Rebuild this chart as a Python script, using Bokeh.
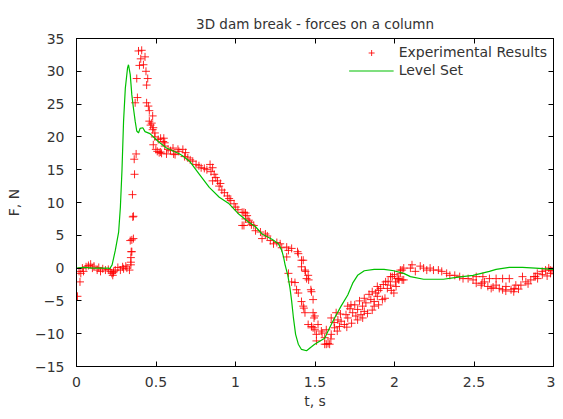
from bokeh.plotting import figure
from bokeh.models import LinearAxis, Range1d, FixedTicker, Legend, LegendItem
from bokeh.embed import file_html
from bokeh.resources import INLINE

title_text = "3D dam break - forces on a column"
x_label = "t, s"
y_label = "F, N"
series_names = ["Experimental Results", "Level Set"]
x_ticks = [0, 0.5, 1, 1.5, 2, 2.5, 3]
y_ticks = [-15, -10, -5, 0, 5, 10, 15, 20, 25, 30, 35]

# Experimental results (t, F)
exp_pts = [
    (0.006, -4.3), (0.016, -0.5), (0.022, -2.1), (0.027, -0.8), (0.037, 0.0), (0.044, -0.5),
    (0.06, 0.2), (0.075, 0.4), (0.089, 0.6), (0.1, 0.0), (0.11, 0.3), (0.13, -0.3), (0.14, 0.1),
    (0.151, -0.5), (0.165, -0.1), (0.182, -0.3), (0.2, -0.2), (0.213, -0.5), (0.222, -0.8),
    (0.228, -1.1), (0.232, -0.7), (0.234, -0.5), (0.244, -0.3), (0.26, 0.1), (0.276, -0.3),
    (0.29, 0.2), (0.296, -0.1), (0.31, 0.3), (0.317, 0.0), (0.333, -0.3), (0.342, 0.5),
    (0.342, 0.9), (0.342, 1.6), (0.344, 2.5), (0.348, 2.5), (0.338, 4.2), (0.348, 4.3),
    (0.358, 4.5), (0.354, 7.8), (0.358, 7.9), (0.352, 11.2), (0.365, 14.3), (0.363, 16.6),
    (0.375, 17.4), (0.369, 25.2), (0.383, 26.0), (0.379, 28.9), (0.396, 30.9), (0.39, 33.1),
    (0.41, 33.2), (0.404, 31.9), (0.431, 32.2), (0.421, 31.0), (0.437, 30.0), (0.448, 28.9),
    (0.441, 27.9), (0.441, 25.2), (0.452, 24.7), (0.458, 24.0), (0.479, 23.2), (0.458, 22.4),
    (0.466, 21.8), (0.473, 22.1), (0.479, 21.1), (0.483, 21.4), (0.493, 20.6), (0.493, 20.0),
    (0.514, 19.6), (0.529, 19.8), (0.545, 19.3), (0.549, 19.8), (0.555, 19.1), (0.555, 18.6),
    (0.483, 18.8), (0.499, 18.1), (0.508, 17.8), (0.52, 17.6), (0.529, 17.7), (0.535, 17.5),
    (0.566, 17.4), (0.576, 18.1), (0.591, 17.9), (0.607, 18.3), (0.611, 17.4), (0.62, 17.3),
    (0.638, 18.1), (0.644, 17.8), (0.669, 18.1), (0.68, 17.0), (0.686, 17.6), (0.7, 16.8),
    (0.715, 16.5), (0.731, 16.3), (0.752, 15.8), (0.77, 15.6), (0.784, 15.3), (0.804, 15.2),
    (0.82, 15.0), (0.84, 15.8), (0.846, 14.7), (0.856, 15.3), (0.856, 13.3), (0.866, 14.3),
    (0.876, 13.8), (0.887, 13.3), (0.897, 12.5), (0.905, 12.9), (0.914, 11.9), (0.93, 11.5),
    (0.949, 11.0), (0.96, 10.6), (0.97, 10.3), (0.991, 9.8), (1.001, 9.3), (1.015, 8.9),
    (1.042, 8.5), (1.053, 8.5), (1.063, 8.4), (1.073, 8.0), (1.063, 7.5), (1.084, 7.3),
    (1.09, 7.0), (1.042, 6.5), (1.053, 6.5), (1.1, 6.6), (1.115, 6.5), (1.126, 5.7),
    (1.157, 5.5), (1.167, 4.5), (1.188, 5.2), (1.2, 4.9), (1.219, 4.2), (1.239, 3.7),
    (1.26, 3.9), (1.281, 3.7), (1.291, 3.1), (1.322, 3.2), (1.333, 2.7), (1.353, 3.0),
    (1.322, 1.7), (1.395, 2.2), (1.39, 2.5), (1.415, 1.2), (1.426, 1.2), (1.415, 0.2),
    (1.437, -0.3), (1.44, -0.5), (1.457, -1.1), (1.447, -1.6), (1.46, -1.8), (1.333, -0.8),
    (1.353, -2.1), (1.374, -2.2), (1.384, -3.3), (1.395, -3.8), (1.474, -3.3), (1.478, -3.6),
    (1.488, -4.8), (1.415, -5.1), (1.426, -5.8), (1.43, -6.1), (1.437, -6.8), (1.488, -6.8),
    (1.499, -7.3), (1.494, -7.6), (1.457, -8.6), (1.478, -8.9), (1.488, -9.1), (1.499, -9.4),
    (1.509, -10.1), (1.519, -8.6), (1.54, -9.6), (1.545, -9.9), (1.509, -11.1), (1.561, -10.6),
    (1.571, -11.6), (1.582, -11.5), (1.561, -11.6), (1.592, -11.6), (1.571, -9.4), (1.602, -10.1),
    (1.623, -9.1), (1.602, -7.6), (1.633, -6.8), (1.644, -7.9), (1.664, -8.1), (1.654, -8.9),
    (1.685, -8.6), (1.695, -7.1), (1.706, -5.8), (1.726, -5.6), (1.706, -7.6), (1.737, -6.8),
    (1.757, -7.3), (1.768, -6.3), (1.768, -7.9), (1.789, -7.1), (1.799, -5.8), (1.81, -6.6),
    (1.82, -5.3), (1.81, -4.6), (1.851, -4.8), (1.872, -5.8), (1.872, -5.1), (1.882, -3.8),
    (1.892, -4.3), (1.892, -2.8), (1.913, -3.1), (1.924, -4.8), (1.944, -2.1), (1.955, -3.1),
    (1.975, -2.6), (1.975, -1.3), (1.986, -1.3), (1.996, -3.8), (2.006, -2.1), (2.017, -1.6),
    (2.027, -1.8), (2.037, -0.8), (2.058, -1.8), (2.048, -0.3), (2.037, -0.3), (2.058, 0.0),
    (2.027, -1.6), (2.048, -1.8), (2.1, 0.0), (2.11, 0.5), (2.131, -0.5), (2.162, 0.3),
    (2.183, 0.0), (2.203, -0.3), (2.224, 0.0), (2.245, -0.3), (2.276, -0.3), (2.297, -0.5),
    (2.328, -0.8), (2.348, -1.1), (2.379, -1.1), (2.41, -1.3), (2.431, -1.6), (2.463, -1.6),
    (2.494, -1.8), (2.514, -2.3), (2.514, -1.3), (2.545, -2.6), (2.556, -1.3), (2.566, -2.1),
    (2.587, -2.8), (2.597, -1.6), (2.608, -3.1), (2.639, -2.6), (2.639, -1.6), (2.659, -3.1),
    (2.68, -3.3), (2.68, -1.6), (2.701, -2.8), (2.722, -1.6), (2.733, -3.3), (2.753, -3.1),
    (2.763, -2.6), (2.795, -2.6), (2.805, -1.3), (2.826, -2.1), (2.857, -1.8), (2.877, -1.3),
    (2.886, -1.3), (2.898, -0.8), (2.929, -0.5), (2.95, -0.3), (2.97, 0.0), (2.981, -0.8),
    (2.99, -0.4),
    (1.62, -8.3), (1.66, -7.0), (1.72, -6.2), (1.75, -5.6), (1.78, -5.0), (1.84, -4.0),
    (1.86, -3.6), (1.9, -3.4), (1.93, -2.5), (1.96, -2.0), (2.0, -1.0),
    (1.6, -10.8), (1.64, -9.6), (1.7, -9.0), (1.73, -8.4), (1.8, -7.6), (1.83, -6.9),
    (1.86, -6.4), (1.9, -5.6), (1.94, -4.6), (1.98, -3.4), (2.01, -2.8),
    (2.55, -2.3), (2.62, -2.9), (2.7, -3.5), (2.75, -3.6), (2.78, -3.2), (2.84, -2.4),
    (2.9, -1.6), (2.93, -1.0), (2.96, -1.2), (2.98, -0.3),
]
exp_t = [pt[0] for pt in exp_pts]
exp_f = [pt[1] for pt in exp_pts]

# Level Set simulation
ls_t = [0.0, 0.05, 0.1, 0.15, 0.2, 0.209, 0.224, 0.244, 0.265, 0.276, 0.286, 0.296, 0.307,
        0.321, 0.327, 0.338, 0.348, 0.358, 0.369, 0.379, 0.39, 0.4, 0.417, 0.431, 0.462,
        0.514, 0.566, 0.649, 0.669, 0.711, 0.773, 0.835, 0.898, 0.96, 1.022, 1.084, 1.126,
        1.167, 1.229, 1.27, 1.291, 1.302, 1.312, 1.329, 1.343, 1.353, 1.364, 1.378, 1.395,
        1.415, 1.447, 1.478, 1.498, 1.561, 1.592, 1.623, 1.664, 1.706, 1.737, 1.768, 1.81,
        1.872, 1.934, 1.996, 2.058, 2.1, 2.183, 2.307, 2.39, 2.494, 2.597, 2.639, 2.722,
        2.805, 2.886, 3.0]
ls_f = [0.0, 0.1, 0.0, 0.0, 0.0, -0.1, 0.5, 2.7, 5.5, 9.3, 14.9, 22.4, 27.4,
        30.5, 31.0, 29.5, 26.4, 24.4, 22.4, 20.9, 20.6, 21.3, 21.4, 20.8, 20.5,
        19.3, 18.3, 17.4, 17.1, 16.3, 14.3, 12.3, 10.8, 9.8, 8.2, 7.0, 6.3,
        5.2, 4.4, 3.7, 2.7, 1.7, 0.5, -1.1, -3.1, -5.0, -7.5, -10.1, -11.6,
        -12.4, -12.6, -12.0, -11.6, -10.7, -9.1, -7.6, -5.8, -4.1, -2.3, -1.1, -0.4,
        -0.2, -0.2, -0.4, -0.8, -1.3, -1.7, -1.7, -1.4, -1.1, -0.5, -0.2, 0.1,
        0.1, 0.0, -0.2]

FONT = "DejaVu Sans"
TXT = "#333333"

p = figure(width=555, height=411, output_backend="svg", toolbar_location=None,
           x_range=Range1d(0, 3), y_range=Range1d(-15, 35),
           min_border_left=76, min_border_right=2, min_border_top=38, min_border_bottom=42,
           background_fill_color="white", border_fill_color="white")
p.grid.visible = False
p.outline_line_color = "black"
p.outline_line_width = 1

p.title.text = title_text
p.title.align = "center"
p.title.vertical_align = "top"
p.title.text_font = FONT
p.title.text_font_size = "13.5px"
p.title.text_font_style = "normal"
p.title.text_color = TXT
p.title.standoff = 10

for ax, ticks in ((p.xaxis[0], x_ticks), (p.yaxis[0], y_ticks)):
    ax.ticker = FixedTicker(ticks=ticks)
    ax.major_tick_in = 5
    ax.major_tick_out = 0
    ax.minor_tick_line_color = None
    ax.axis_line_color = "black"
    ax.major_tick_line_color = "black"
    ax.major_label_text_font = FONT
    ax.major_label_text_font_size = "14px"
    ax.major_label_text_color = TXT
    ax.axis_label_text_font = FONT
    ax.axis_label_text_font_size = "14px"
    ax.axis_label_text_font_style = "normal"
    ax.axis_label_text_color = TXT

p.xaxis[0].axis_label = x_label
p.xaxis[0].major_label_standoff = 10
p.xaxis[0].axis_label_standoff = 3
p.yaxis[0].axis_label = y_label
p.yaxis[0].major_label_standoff = 12
p.yaxis[0].axis_label_standoff = 10

top_ax = LinearAxis(ticker=FixedTicker(ticks=x_ticks), major_tick_in=5, major_tick_out=0,
                    minor_tick_line_color=None, axis_line_color="black",
                    major_label_text_font_size="0px", major_label_text_color=None,
                    major_label_standoff=0)
right_ax = LinearAxis(ticker=FixedTicker(ticks=y_ticks), major_tick_in=5, major_tick_out=0,
                      minor_tick_line_color=None, axis_line_color="black",
                      major_label_text_font_size="0px", major_label_text_color=None,
                      major_label_standoff=0)
p.add_layout(top_ax, "above")
p.add_layout(right_ax, "right")

r_exp = p.scatter(exp_t, exp_f, marker="cross", size=8, line_color="#ff0000",
                  line_width=1, line_alpha=0.85)
r_ls = p.line(ls_t, ls_f, line_color="#00c000", line_width=1.2)

legend = Legend(items=[LegendItem(label=series_names[0], renderers=[r_exp]),
                       LegendItem(label=series_names[1], renderers=[r_ls])],
                location="top_right", border_line_color=None, background_fill_alpha=0,
                label_text_font=FONT, label_text_font_size="14px", label_text_color=TXT,
                glyph_width=45, glyph_height=15, spacing=2, padding=4, margin=6,
                label_height=15)
p.add_layout(legend)

open("out.html", "w").write(file_html(p, INLINE))
